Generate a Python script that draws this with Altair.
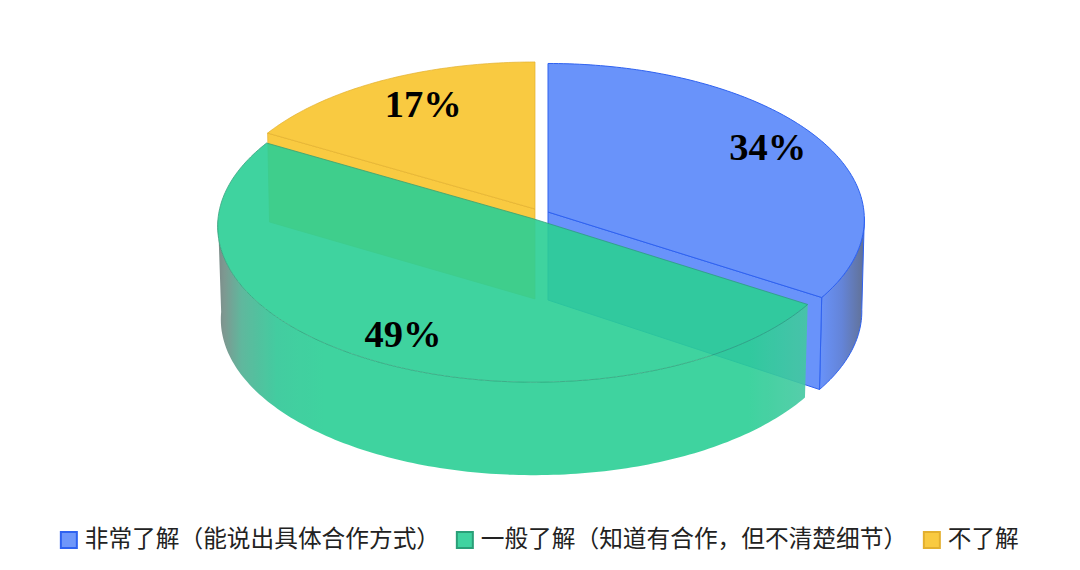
import math
import altair as alt
import pandas as pd

categories = ["非常了解（能说出具体合作方式）", "一般了解（知道有合作，但不清楚细节）", "不了解"]
shares = [34, 49, 17]
share_labels = ["34%", "49%", "17%"]

FILL = ["#6993fa", "#2bcf95", "#f9ca41"]
LEGEND_FILL = ["#6f97fa", "#40d3a0", "#f9ca41"]
STROKE = ["#2f62f0", "#2a9f78", "#e3b02f"]

# pie geometry (pixel space of the 1080x570 picture)
RX, RY, PERSP, DEPTH = 316.0, 155.5, 0.047, 92.0
APEX = [(548.0, 212.0), (534.0, 219.0), (535.0, 209.0)]
LABEL_POS = [(0.79, 0.857), (0.82, 0.872), (0.695, 0.795)]
LABEL_NUDGE = [(1.0, 0.0), (1.0, -1.0), (0.0, 2.0)]
FLAT = [0.0, 0.0, 0.01]
SPLIT_NUDGE = 1.2  # the drawn green/yellow boundary sits slightly past the exact share


def pt(apex, deg, dy=0.0, shrink=1.0, flat=0.0):
    a = math.radians(deg)
    u, v = math.sin(a), math.cos(a)
    s = 1.0 / (1.0 + PERSP * v)
    f = 1.0 - flat * max(v, 0.0) ** 4
    return (apex[0] + RX * shrink * u * s, apex[1] - RY * v * s * f + dy)


def arc(apex, a0, a1, dy=0.0, shrink=1.0, flat=0.0):
    n = max(2, int(abs(a1 - a0)))
    return [pt(apex, a0 + (a1 - a0) * i / n, dy, shrink, flat) for i in range(n + 1)]


def frame(points):
    return pd.DataFrame(
        {"px": [p[0] for p in points], "py": [p[1] for p in points], "o": range(len(points))}
    )


X = alt.Scale(domain=[8, 1072], range=[0, 1064], nice=False, zero=False)
Y = alt.Scale(domain=[8, 562], range=[0, 554], nice=False, zero=False)


def poly(points, **mark):
    mark.setdefault("stroke", "transparent")
    return (
        alt.Chart(frame(points))
        .mark_line(interpolate="linear-closed", **mark)
        .encode(
            x=alt.X("px:Q", scale=X, axis=None),
            y=alt.Y("py:Q", scale=Y, axis=None),
            order="o:Q",
        )
    )


def grad(stops):
    return alt.LinearGradient(
        gradient="linear", x1=0, x2=1, y1=0, y2=0,
        stops=[alt.GradientStop(color=c, offset=o) for o, c in stops],
    )


# slice angle ranges, clockwise from twelve o'clock
edges = [0.0]
for s in shares:
    edges.append(edges[-1] + s / sum(shares) * 360.0)
blue = (edges[0], edges[1])
green = (edges[1], edges[2] + SPLIT_NUDGE)
yellow = (edges[2] + SPLIT_NUDGE, edges[3])

layers = []

# blue slice
ap = APEX[0]
layers.append(poly(
    arc(ap, 92, blue[1]) + arc(ap, blue[1], 92, DEPTH, 0.992),
    fill=grad([(0, "#6993fa"), (0.5, "#6484d8"), (0.92, "#62749f"), (1, "#5a6f9c")]),
    stroke=STROKE[0], strokeWidth=1,
))
end_top = pt(ap, blue[1])
end_bot = pt(ap, blue[1], DEPTH, 0.992)
layers.append(poly(
    [ap, end_top, end_bot, (ap[0], ap[1] + DEPTH - 4)],
    fill=FILL[0], stroke=STROKE[0], strokeWidth=1,
))
layers.append(poly(
    [ap] + arc(ap, blue[0], blue[1]),
    fill=FILL[0], stroke=STROKE[0], strokeWidth=1,
))

# yellow slice
ap = APEX[2]
layers.append(poly(
    [ap, pt(ap, yellow[0]), pt(ap, yellow[0], DEPTH - 3, 0.993), (ap[0], ap[1] + DEPTH - 2)],
    fill=FILL[2], stroke=STROKE[2], strokeWidth=1, strokeOpacity=0.7,
))
layers.append(poly(
    [ap] + arc(ap, yellow[0], yellow[1], flat=FLAT[2]),
    fill=FILL[2], stroke=STROKE[2], strokeWidth=1, strokeOpacity=0.7,
))

# green slice, translucent, on top
ap = APEX[1]
layers.append(poly(
    arc(ap, green[0], 270) + arc(ap, 270, green[0], DEPTH + 1, 0.99),
    fill=grad([(0, "#6f7f7c"), (0.012, "#6f8f86"), (0.04, "#4fb093"), (0.1, "#2fc796"),
               (0.18, "#2bcf95"), (0.9, "#2bcf95"), (1, "#45c8a2")]),
    opacity=0.9,
))
layers.append(poly(
    [ap] + arc(ap, green[0], green[1]),
    fill=FILL[1], stroke=STROKE[1], strokeWidth=1, strokeOpacity=0.85, opacity=0.9,
))

# percentage labels
lx, ly = [], []
for i, (ap, (fu, fv), (nx, ny)) in enumerate(zip(APEX, LABEL_POS, LABEL_NUDGE)):
    mid = (edges[i] + edges[i + 1]) / 2
    u, v = math.sin(math.radians(mid)), math.cos(math.radians(mid))
    lx.append(ap[0] + RX * fu * u + nx)
    ly.append(ap[1] - RY * fv * v + ny)

label_df = pd.DataFrame({"cat": categories, "label": share_labels, "px": lx, "py": ly})

labels = (
    alt.Chart(label_df)
    .mark_text(font="Liberation Serif", fontWeight="bold", fontSize=38.5, color="#000000")
    .encode(
        x=alt.X("px:Q", scale=X, axis=None),
        y=alt.Y("py:Q", scale=Y, axis=None),
        text="label:N",
    )
)

legend_opts = dict(
    title=None, orient="none", legendX=49, legendY=520,
    direction="horizontal", columns=3, columnPadding=11,
    symbolType="square", symbolSize=256, symbolStrokeWidth=2,
    symbolOpacity=1, labelFont="Noto Sans CJK SC", labelFontSize=23.7,
    labelColor="#222222", labelLimit=600, labelOffset=4, padding=0,
)

legend_src = (
    alt.Chart(label_df)
    .mark_point(filled=True, size=0, strokeWidth=2)
    .encode(
        x=alt.X("px:Q", scale=X, axis=None),
        y=alt.Y("py:Q", scale=Y, axis=None),
        fill=alt.Fill("cat:N", scale=alt.Scale(domain=categories, range=LEGEND_FILL),
                      legend=alt.Legend(**legend_opts)),
        stroke=alt.Stroke("cat:N", scale=alt.Scale(domain=categories, range=STROKE),
                          legend=alt.Legend(**legend_opts)),
    )
)

chart = (
    alt.layer(*layers, labels, legend_src)
    .resolve_scale(fill="independent", stroke="independent")
    .properties(width=1064, height=554, padding=0, autosize=alt.AutoSizeParams(type="none"), background="white")
    .configure_view(stroke=None)
)

chart.save("out.html", embed_options={"renderer": "svg", "actions": False})
